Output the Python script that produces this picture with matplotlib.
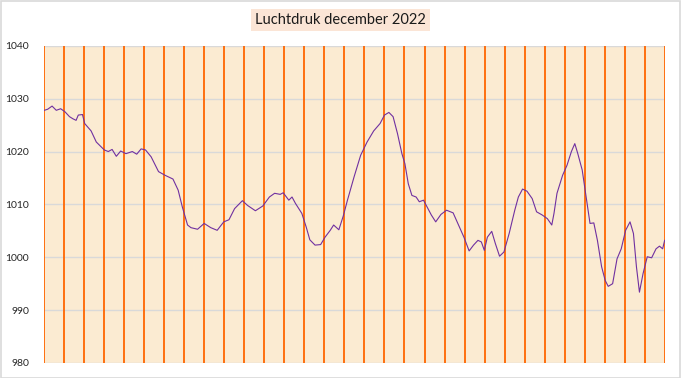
import matplotlib.pyplot as plt
from matplotlib.patches import Rectangle

# Luchtdruk (hPa) december 2022, dag 0..31
dag = [0.0, 0.17, 0.39, 0.6, 0.82, 1.04, 1.26, 1.43, 1.59, 1.7, 1.91, 2.02,
       2.34, 2.6, 3.0, 3.2, 3.39, 3.6, 3.82, 4.08, 4.4, 4.62, 4.84, 5.06,
       5.34, 5.71, 6.04, 6.43, 6.69, 6.9, 7.16, 7.33, 7.66, 7.99, 8.32, 8.64,
       8.97, 9.23, 9.51, 9.9, 10.16, 10.55, 10.92, 11.25, 11.51, 11.79, 11.94,
       12.22, 12.38, 12.55, 12.87, 13.09, 13.27, 13.53, 13.81, 14.03, 14.29,
       14.46, 14.72, 14.94, 15.15, 15.48, 15.81, 16.13, 16.46, 16.78, 17.0,
       17.22, 17.43, 17.65, 17.87, 18.02, 18.19, 18.37, 18.58, 18.74, 18.95,
       19.17, 19.34, 19.56, 19.82, 20.1, 20.43, 20.69, 20.97, 21.23, 21.45,
       21.67, 21.84, 21.99, 22.14, 22.36, 22.54, 22.75, 22.97, 23.23, 23.51,
       23.69, 23.9, 24.12, 24.38, 24.6, 24.88, 25.14, 25.36, 25.47, 25.62,
       25.9, 26.12, 26.34, 26.51, 26.66, 26.88, 27.1, 27.27, 27.46, 27.64,
       27.85, 28.03, 28.18, 28.4, 28.62, 28.83, 29.05, 29.27, 29.44, 29.59,
       29.74, 29.92, 30.13, 30.35, 30.57, 30.74, 30.9, 31.0]
luchtdruk = [1027.8, 1028.0, 1028.6, 1027.8, 1028.1, 1027.5, 1026.6, 1026.2,
             1025.9, 1026.9, 1027.0, 1025.3, 1023.9, 1021.8, 1020.3, 1020.0,
             1020.4, 1019.1, 1020.1, 1019.6, 1020.0, 1019.5, 1020.5, 1020.3,
             1019.0, 1016.2, 1015.5, 1014.8, 1012.7, 1009.5, 1006.1, 1005.6,
             1005.3, 1006.4, 1005.6, 1005.1, 1006.7, 1007.1, 1009.2, 1010.7,
             1009.8, 1008.8, 1009.7, 1011.4, 1012.1, 1011.9, 1012.2, 1010.8,
             1011.4, 1010.2, 1008.3, 1005.7, 1003.3, 1002.3, 1002.4, 1003.8,
             1005.1, 1006.1, 1005.2, 1007.8, 1010.8, 1015.2, 1019.3, 1021.8,
             1023.9, 1025.3, 1026.9, 1027.4, 1026.6, 1023.4, 1019.6, 1017.7,
             1013.9, 1011.7, 1011.4, 1010.5, 1010.8, 1009.2, 1008.0, 1006.7,
             1008.1, 1008.9, 1008.4, 1006.2, 1003.8, 1001.2, 1002.3, 1003.2,
             1002.9, 1001.3, 1003.8, 1004.9, 1002.6, 1000.2, 1001.0, 1004.5,
             1008.9, 1011.4, 1012.9, 1012.5, 1011.1, 1008.6, 1008.0, 1007.3,
             1006.1, 1008.3, 1012.1, 1015.5, 1017.4, 1020.0, 1021.5, 1019.6,
             1016.5, 1010.8, 1006.4, 1006.5, 1003.2, 998.2, 995.6, 994.5,
             995.0, 999.7, 1001.6, 1005.1, 1006.7, 1004.5, 998.2, 993.4,
             996.9, 1000.1, 999.9, 1001.6, 1002.1, 1001.6, 1003.2]

y_ticks = [980, 990, 1000, 1010, 1020, 1030, 1040]

plt.rcParams['font.family'] = ['Lato', 'DejaVu Sans']

fig = plt.figure(figsize=(6.81, 3.78), dpi=100)
fig.patches.append(Rectangle((0.001, 0.001), 0.997, 0.996, transform=fig.transFigure,
                             fill=False, edgecolor='#D9D9D9', linewidth=1.2))

ax = fig.add_axes([0.065, 0.0397, 0.9110, 0.8391])
ax.set_facecolor('#FBEBD2')

# horizontale rasterlijnen
for y in y_ticks:
    ax.axhline(y, color='#D9D9D9', linewidth=1, zorder=1)

# dagscheidingen
for d in range(0, 32):
    ax.axvline(d, color='#FF6600', linewidth=1.3, zorder=2)

ax.plot(dag, luchtdruk, color='#7030A0', linewidth=0.8, zorder=3)

ax.set_xlim(0, 31)
ax.set_ylim(980, 1040)
ax.set_yticks(y_ticks)
ax.set_xticks([])
ax.tick_params(axis='y', length=0, pad=11, labelsize=7.5, labelcolor='#262626')
for s in ax.spines.values():
    s.set_visible(False)

fig.text(0.4993, 0.947, 'Luchtdruk december 2022', ha='center', va='center',
         fontsize=10.5, color='#1a1a1a',
         bbox=dict(boxstyle='square,pad=0.28', facecolor='#FBE5D6', edgecolor='none'))

fig.savefig('out.png', dpi=100)
